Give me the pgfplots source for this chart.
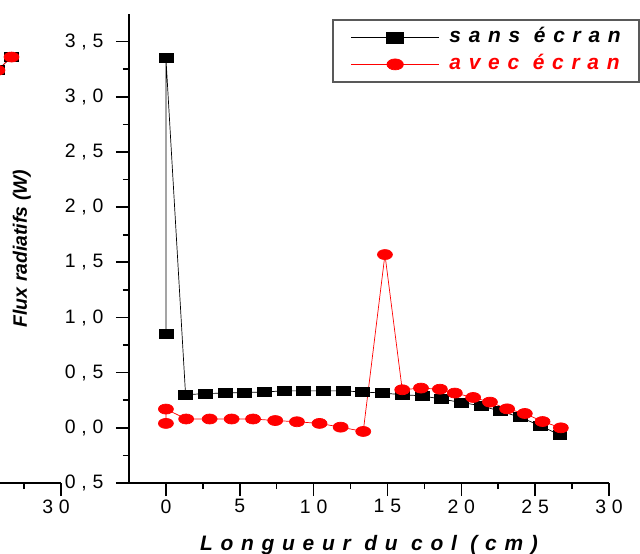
\documentclass[border=0pt]{standalone}
\usepackage{fontspec}
\setmainfont{Liberation Sans}
\newfontfamily\tickfont[LetterSpace=30]{Liberation Sans}
\newfontfamily\labfont[LetterSpace=37]{Liberation Sans}
\usepackage{pgfplots}
\pgfplotsset{compat=1.18}
\pgfplotsset{
  common/.style={
    scale only axis, width=480bp, height=469bp,
    xmin=-2.5, xmax=30, ymin=-0.5, ymax=3.75,
    axis line style={line width=1.6bp},
    tick style={line width=1.6bp, black},
    tick align=outside,
    major tick length=13bp, minor tick length=6bp,
    ticklabel style={font=\tickfont\fontsize{19.5}{21}\selectfont},
  },
  blk/.style={black, line width=0.7bp, mark=square*, mark size=4.5bp, mark options={solid, xscale=1.55, fill=black}},
  rd/.style={red, line width=0.7bp, mark=*, mark size=5bp, mark options={solid, xscale=1.5, fill=red}},
}
\begin{document}
\begin{tikzpicture}
\useasboundingbox (0bp,0bp) rectangle (640bp,554bp);
% fragment of the neighbouring chart
\begin{axis}[common, at={(-419bp,71bp)}, anchor=south west,
  axis x line*=bottom, hide y axis,
  xtick={30}, xticklabels={30}, minor xtick={27.5},
  xticklabel style={xshift=-5bp}]
\addplot[blk] coordinates {(25.7,3.24) (26.65,3.36)};
\addplot[rd] coordinates {(25.7,3.24) (26.65,3.36)};
\end{axis}
% main chart
\begin{axis}[common, at={(129bp,71bp)}, anchor=south west,
  axis x line*=bottom, axis y line*=left,
  xtick={0,5,...,30}, xticklabels={0,5,10,15,20,25,30}, minor x tick num=1,
  ytick={-0.5,0,0.5,1,1.5,2,2.5,3,3.5},
  yticklabels={{-0,5},{0,0},{0,5},{1,0},{1,5},{2,0},{2,5},{3,0},{3,5}},
  yticklabel style={xshift=-9bp},
  minor y tick num=1,
  every axis y label/.style={at={(axis description cs:-0.223,0.5)}, rotate=90, anchor=center,
     font=\bfseries\itshape\fontsize{19.5}{21}\selectfont},
  every axis x label/.style={at={(axis description cs:0.5,-0.143)}, anchor=base,
     font=\labfont\bfseries\itshape\fontsize{21}{23}\selectfont},
  xlabel={Longueur du col (cm)},
  ylabel={Flux radiatifs (W)},
  legend cell align=left,
  legend image code/.code={\draw[mark repeat=2,mark phase=2,#1,mark size=5.5bp] plot coordinates {(0pt,0pt) (44bp,0pt) (88bp,0pt)};},
  legend style={at={(axis description cs:0.423,0.989)}, anchor=north west,
     draw=black!65, line width=1.5bp, inner xsep=18bp, inner ysep=8.5bp,
     column sep=10bp, row sep=9bp,
     nodes={inner sep=0pt, text height=14bp, text depth=4bp,
            font=\labfont\bfseries\itshape\fontsize{21}{23}\selectfont}},
]
\addplot[blk] coordinates {
(0,0.85) (0,3.35) (1.33,0.30) (2.67,0.31) (4.0,0.315) (5.33,0.32) (6.67,0.325)
(8.0,0.335) (9.33,0.335) (10.67,0.335) (12.0,0.335) (13.33,0.325) (14.67,0.315)
(16.0,0.30) (17.33,0.29) (18.67,0.26) (20.0,0.23) (21.33,0.20) (22.67,0.15)
(24.0,0.095) (25.33,0.02) (26.67,-0.065)};
\addlegendentry{sans écran}
\addplot[rd] coordinates {
(0,0.04) (0,0.17) (1.37,0.08) (2.96,0.08) (4.45,0.08) (5.9,0.08) (7.4,0.066)
(8.87,0.055) (10.4,0.04) (11.83,0.006) (13.36,-0.033) (14.83,1.57)
(16.0,0.345) (17.27,0.36) (18.55,0.35) (19.56,0.315) (20.8,0.275) (21.94,0.233)
(23.1,0.172) (24.3,0.13) (25.5,0.057) (26.74,0.0)};
\addlegendentry{\textcolor{red}{avec écran}}
\end{axis}
\end{tikzpicture}
\end{document}
